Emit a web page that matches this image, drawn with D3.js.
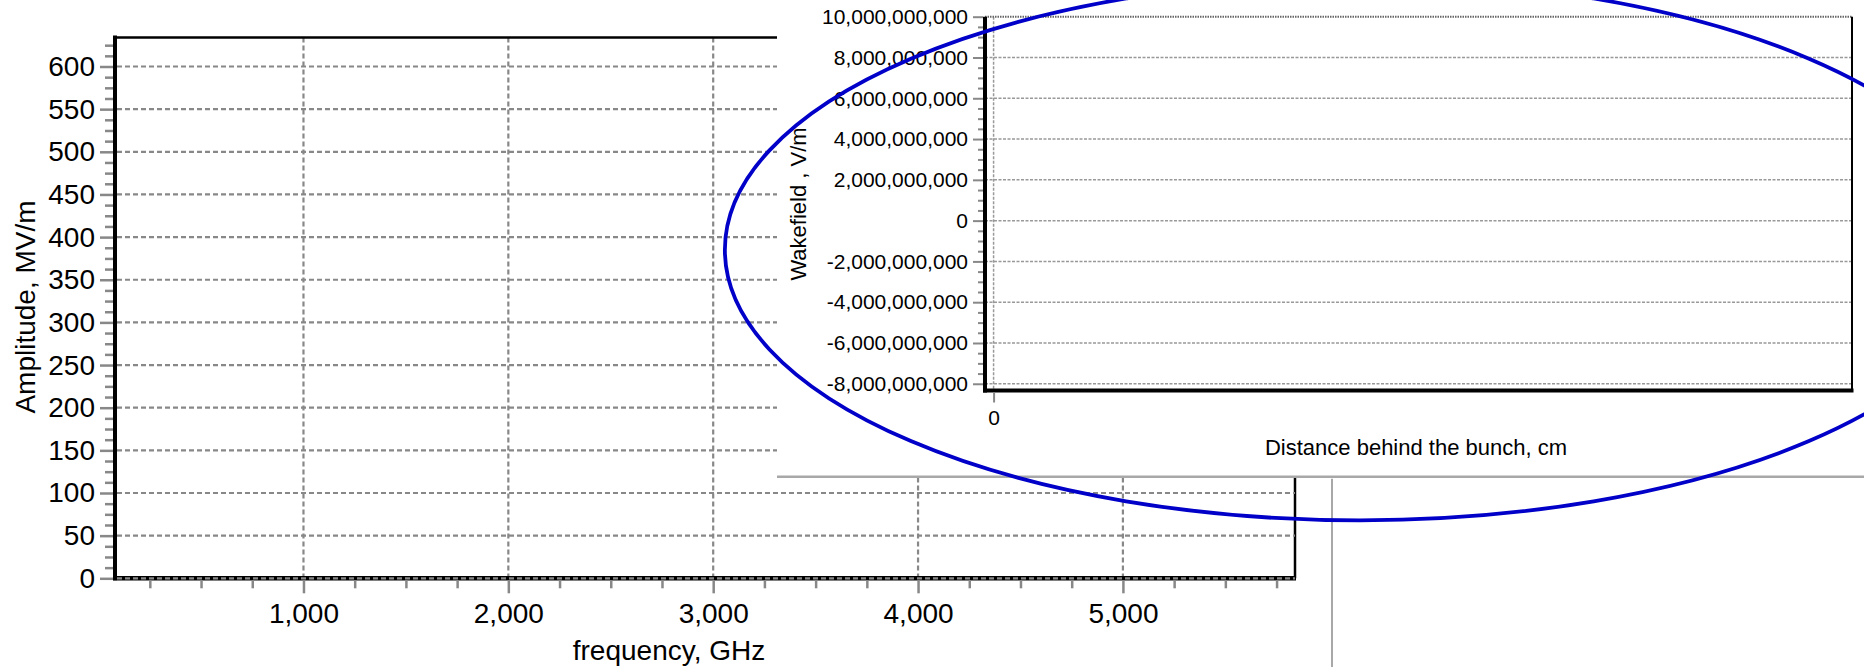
<!DOCTYPE html>
<html>
<head>
<meta charset="utf-8">
<script src="https://cdn.jsdelivr.net/npm/d3@7"></script>
<style>
  html, body { margin: 0; padding: 0; background: #fff; }
  svg { display: block; }
  text { font-family: "Liberation Sans", Arial, sans-serif; fill: #000; }
</style>
</head>
<body>
<svg id="chart" width="1864" height="667"></svg>
<script>
// ---------- data ----------
// Main chart: spectrum amplitude (no curve visible in the picture)
const amplitudeSeries = [];
const freqDomain = [80, 5840];               // GHz
const ampDomain = [0, 634];                  // MV/m
const freqMajorTicks = [1000, 2000, 3000, 4000, 5000];
const freqMinorTicks = d3.range(250, 5751, 250).filter(v => v % 1000 !== 0);
const ampMajorTicks = d3.range(0, 601, 50);
const ampMinorTicks = d3.range(12.5, 634, 12.5).filter(v => v % 50 !== 0);
const mainXTitle = "frequency, GHz";
const mainYTitle = "Amplitude, MV/m";

// Inset chart: wakefield (no curve visible in the picture)
const wakefieldSeries = [];
const distDomain = [-0.01, 1.0];             // cm
const wakeDomain = [-8.33e9, 1e10];          // V/m
const distTicks = [0];
const wakeMajorTicks = d3.range(-8e9, 1.0001e10, 2e9);
const wakeMinorTicks = d3.range(-8e9, 1e10, 5e8).filter(v => Math.abs(v % 2e9) > 1);
const insetXTitle = "Distance behind the bunch, cm";
const insetYTitle = "Wakefield , V/m";

// Annotation ellipse, in main-chart data units
const ellipseCenter = [6157, 385];           // [GHz, MV/m]
const ellipseRadii = [3100, 317];            // [GHz, MV/m]

// ---------- drawing ----------
const svg = d3.select("#chart");
const fmt = d => d3.format(",")(d).replace("\u2212", "-");

// Main scales
const M = { left: 115, right: 1295, top: 37.5, bottom: 578.3 };
const xM = d3.scaleLinear().domain(freqDomain).range([M.left, M.right]);
const yM = d3.scaleLinear().domain(ampDomain).range([M.bottom, M.top]);

const main = svg.append("g");
const gridStyle = s => s.attr("stroke", "#888").attr("stroke-width", 2.2).attr("stroke-dasharray", "5,3");

// vertical grid
main.append("g").selectAll("line").data(freqMajorTicks).join("line")
  .attr("x1", d => xM(d)).attr("x2", d => xM(d))
  .attr("y1", M.top).attr("y2", M.bottom)
  .call(gridStyle);

// main axes lines (black)
main.append("line").attr("x1", M.left).attr("x2", M.right).attr("y1", M.top).attr("y2", M.top)
  .attr("stroke", "#000").attr("stroke-width", 2.5);
main.append("line").attr("x1", M.right).attr("x2", M.right).attr("y1", M.top).attr("y2", M.bottom)
  .attr("stroke", "#000").attr("stroke-width", 2.5);
main.append("line").attr("x1", M.left - 2).attr("x2", M.right + 1).attr("y1", M.bottom).attr("y2", M.bottom)
  .attr("stroke", "#000").attr("stroke-width", 4.5);
main.append("line").attr("x1", M.left).attr("x2", M.left).attr("y1", M.top - 2).attr("y2", M.bottom + 2)
  .attr("stroke", "#000").attr("stroke-width", 4);

// horizontal grid (drawn over the axis at 0)
main.append("g").selectAll("line").data(ampMajorTicks).join("line")
  .attr("x1", M.left + 2).attr("x2", M.right)
  .attr("y1", d => yM(d)).attr("y2", d => yM(d))
  .call(gridStyle);

function styleAxis(g, fontSize, tickColor, tickWidth) {
  g.select(".domain").remove();
  g.selectAll(".tick line").attr("stroke", tickColor).attr("stroke-width", tickWidth);
  g.selectAll(".tick text").attr("font-size", fontSize).attr("fill", "#000")
    .style("font-family", '"Liberation Sans", Arial, sans-serif');
}

// main y axis
main.append("g").attr("transform", `translate(${M.left - 2},0)`)
  .call(d3.axisLeft(yM).tickValues(ampMinorTicks).tickSize(8).tickFormat(""))
  .call(g => styleAxis(g, 28, "#888", 2.5));
main.append("g").attr("transform", `translate(${M.left - 2},0)`)
  .call(d3.axisLeft(yM).tickValues(ampMajorTicks).tickSize(13).tickPadding(5).tickFormat(fmt))
  .call(g => styleAxis(g, 28, "#888", 2.5));

// main x axis
main.append("g").attr("transform", `translate(0,${M.bottom + 2})`)
  .call(d3.axisBottom(xM).tickValues(freqMinorTicks).tickSize(8).tickFormat(""))
  .call(g => styleAxis(g, 28, "#888", 2.5));
main.append("g").attr("transform", `translate(0,${M.bottom + 2})`)
  .call(d3.axisBottom(xM).tickValues(freqMajorTicks).tickSize(13).tickPadding(10).tickFormat(fmt))
  .call(g => styleAxis(g, 28, "#888", 2.5));

// main axis titles
main.append("text").attr("x", 669).attr("y", 660).attr("text-anchor", "middle")
  .attr("font-size", 28).text(mainXTitle);
main.append("text").attr("transform", "translate(35,307) rotate(-90)").attr("text-anchor", "middle")
  .attr("font-size", 28).text(mainYTitle);

// ---------- inset panel ----------
const P = { left: 777, top: 0, right: 1864, bottom: 476.7 };
svg.append("rect").attr("x", P.left).attr("y", P.top)
  .attr("width", P.right - P.left).attr("height", P.bottom - P.top).attr("fill", "#fff");
svg.append("line").attr("x1", P.left).attr("x2", P.right).attr("y1", P.bottom).attr("y2", P.bottom)
  .attr("stroke", "#a8a8a8").attr("stroke-width", 2.5);
svg.append("line").attr("x1", 1332).attr("x2", 1332).attr("y1", P.bottom + 2).attr("y2", 667)
  .attr("stroke", "#a8a8a8").attr("stroke-width", 2);

const I = { left: 985, right: 1852, top: 16.7, bottom: 390.5 };
const xI = d3.scaleLinear().domain(distDomain).range([I.left, I.right]);
const yI = d3.scaleLinear().domain(wakeDomain).range([I.bottom, I.top]);
const inset = svg.append("g");

// inset titles (behind tick labels)
inset.append("text").attr("transform", "translate(806,204) rotate(-90)").attr("text-anchor", "middle")
  .attr("font-size", 22).text(insetYTitle);
inset.append("text").attr("x", 1416).attr("y", 454.5).attr("text-anchor", "middle")
  .attr("font-size", 22).text(insetXTitle);

// inset grid
inset.append("g").selectAll("line").data(wakeMajorTicks.filter(v => v < 1e10)).join("line")
  .attr("x1", I.left).attr("x2", I.right)
  .attr("y1", d => yI(d)).attr("y2", d => yI(d))
  .attr("stroke", "#999").attr("stroke-width", 1.5).attr("stroke-dasharray", "3,1.5");
inset.append("g").selectAll("line").data(distTicks).join("line")
  .attr("x1", d => xI(d)).attr("x2", d => xI(d))
  .attr("y1", I.top).attr("y2", I.bottom)
  .attr("stroke", "#999").attr("stroke-width", 1.5).attr("stroke-dasharray", "3,1.5");
// top border (dotted)
inset.append("line").attr("x1", I.left).attr("x2", I.right).attr("y1", yI(1e10)).attr("y2", yI(1e10))
  .attr("stroke", "#666").attr("stroke-width", 2).attr("stroke-dasharray", "1.5,1");
// right border
inset.append("line").attr("x1", I.right).attr("x2", I.right).attr("y1", I.top).attr("y2", I.bottom)
  .attr("stroke", "#000").attr("stroke-width", 2);
// axis lines
inset.append("line").attr("x1", I.left - 2).attr("x2", I.right + 1.5).attr("y1", I.bottom).attr("y2", I.bottom)
  .attr("stroke", "#000").attr("stroke-width", 4);
inset.append("line").attr("x1", I.left).attr("x2", I.left).attr("y1", I.top).attr("y2", I.bottom + 2)
  .attr("stroke", "#000").attr("stroke-width", 4);

// inset y axis
inset.append("g").attr("transform", `translate(${I.left - 2},0)`)
  .call(d3.axisLeft(yI).tickValues(wakeMinorTicks).tickSize(5).tickFormat(""))
  .call(g => styleAxis(g, 21, "#888", 2));
inset.append("g").attr("transform", `translate(${I.left - 2},0)`)
  .call(d3.axisLeft(yI).tickValues(wakeMajorTicks).tickSize(10).tickPadding(5).tickFormat(fmt))
  .call(g => styleAxis(g, 21, "#888", 2));
// inset x axis
inset.append("g").attr("transform", `translate(0,${I.bottom + 2})`)
  .call(d3.axisBottom(xI).tickValues(distTicks).tickSize(10).tickPadding(8).tickFormat(fmt))
  .call(g => styleAxis(g, 21, "#888", 2));

// ---------- annotation ellipse ----------
const ecx = xM(ellipseCenter[0]);
const ecy = yM(ellipseCenter[1]);
svg.append("ellipse")
  .attr("cx", ecx).attr("cy", ecy)
  .attr("rx", xM(ellipseCenter[0] + ellipseRadii[0]) - ecx)
  .attr("ry", yM(ellipseCenter[1] - ellipseRadii[1]) - ecy)
  .attr("fill", "none").attr("stroke", "#0000C8").attr("stroke-width", 3.8);
</script>
</body>
</html>
